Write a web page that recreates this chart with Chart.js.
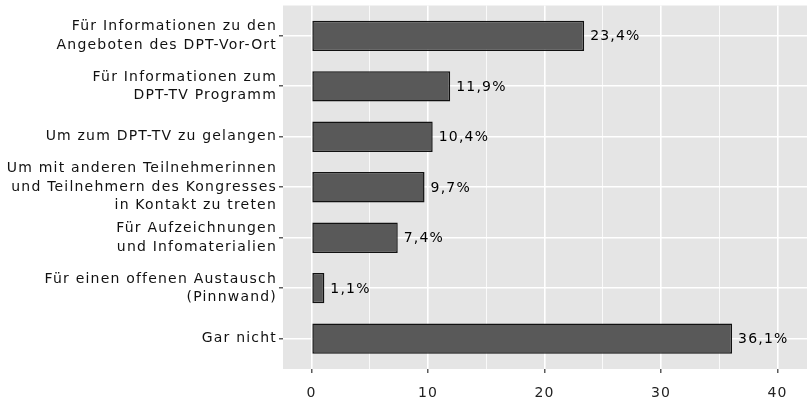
<!DOCTYPE html>
<html>
<head>
<meta charset="utf-8">
<script src="https://cdn.jsdelivr.net/npm/chart.js@4"></script>
<style>
  html, body { margin: 0; padding: 0; background: #fff; }
  #wrap { width: 807px; height: 400px; position: relative; }
</style>
</head>
<body>
<div id="wrap"><canvas id="myChart"></canvas></div>
<script>
// Kategorien (von oben nach unten) und Anteile in %
const categories = [
  ['Für Informationen zu den', 'Angeboten des DPT-Vor-Ort'],
  ['Für Informationen zum', 'DPT-TV Programm'],
  ['Um zum DPT-TV zu gelangen'],
  ['Um mit anderen Teilnehmerinnen', 'und Teilnehmern des Kongresses', 'in Kontakt zu treten'],
  ['Für Aufzeichnungen', 'und Infomaterialien'],
  ['Für einen offenen Austausch', '(Pinnwand)'],
  ['Gar nicht']
];
const shares = [23.4, 11.9, 10.4, 9.7, 7.4, 1.1, 36.1];
const xTicks = [0, 5, 10, 15, 20, 25, 30, 35, 40];

const FONT = { family: 'DejaVu Sans', size: 14 };
const SPACING = '1.2px';

const points = shares.map((v, i) => ({ x: v, y: i + 1 }));

// grauer Hintergrund wie bei ggplot
const panelBg = {
  id: 'panelBg',
  beforeLayout(chart) { chart.ctx.letterSpacing = SPACING; },
  beforeDraw(chart) {
    const { ctx, chartArea: a } = chart;
    ctx.letterSpacing = SPACING;
    ctx.save();
    ctx.fillStyle = '#E5E5E5';
    ctx.fillRect(a.left, a.top, a.right - a.left, a.bottom - a.top);
    ctx.restore();
  }
};

// Prozentwerte rechts neben den Balken
const valueLabels = {
  id: 'valueLabels',
  afterDatasetsDraw(chart) {
    const ctx = chart.ctx;
    const meta = chart.getDatasetMeta(0);
    ctx.save();
    ctx.font = FONT.size + 'px "' + FONT.family + '"';
    ctx.fillStyle = '#000000';
    ctx.textAlign = 'left';
    ctx.textBaseline = 'middle';
    meta.data.forEach((bar, i) => {
      const txt = shares[i].toFixed(1).replace('.', ',') + '%';
      ctx.fillText(txt, bar.x + 6, bar.y + 1);
    });
    ctx.restore();
  }
};

new Chart(document.getElementById('myChart'), {
  type: 'bar',
  data: {
    datasets: [{
      data: points,
      backgroundColor: '#595959',
      borderColor: '#111111',
      borderWidth: 1.5,
      borderSkipped: false,
      barPercentage: 0.6,
      categoryPercentage: 1
    }]
  },
  options: {
    indexAxis: 'y',
    responsive: true,
    maintainAspectRatio: false,
    animation: false,
    layout: { padding: { top: 5.5, right: 0, bottom: 0, left: 0 } },
    plugins: { legend: { display: false }, tooltip: { enabled: false } },
    scales: {
      x: {
        type: 'linear',
        min: -2.45,
        max: 42.53,
        afterBuildTicks: (scale) => { scale.ticks = xTicks.map(v => ({ value: v })); },
        afterFit: (scale) => { scale.height = 31; scale.paddingLeft = 0; scale.paddingRight = 0; },
        border: { display: false },
        grid: {
          color: '#ffffff',
          lineWidth: (c) => (c.tick && c.tick.value % 10 === 0 ? 1.6 : 0.8),
          tickColor: (c) => (c.tick && c.tick.value % 10 === 0 ? '#333333' : 'rgba(0,0,0,0)'),
          tickLength: 4,
          tickWidth: 1.2
        },
        ticks: {
          font: FONT,
          color: '#222222',
          padding: 12,
          maxRotation: 0,
          autoSkip: false,
          callback: (v) => (v % 10 === 0 ? String(v) : '')
        }
      },
      y: {
        type: 'linear',
        reverse: true,
        offset: false,
        min: 0.4,
        max: 7.6,
        afterBuildTicks: (scale) => { scale.ticks = categories.map((c, i) => ({ value: i + 1 })); },
        afterFit: (scale) => { scale.width = 283; scale.paddingTop = 0; scale.paddingBottom = 0; },
        border: { display: false },
        grid: {
          offset: false,
          color: '#ffffff',
          lineWidth: 1.6,
          tickColor: '#333333',
          tickLength: 4,
          tickWidth: 1.2
        },
        ticks: {
          font: { family: FONT.family, size: FONT.size, lineHeight: 1.32 },
          color: '#111111',
          padding: 2,
          autoSkip: false,
          callback: (v) => categories[v - 1] || ''
        }
      }
    }
  },
  plugins: [panelBg, valueLabels]
});
</script>
</body>
</html>
